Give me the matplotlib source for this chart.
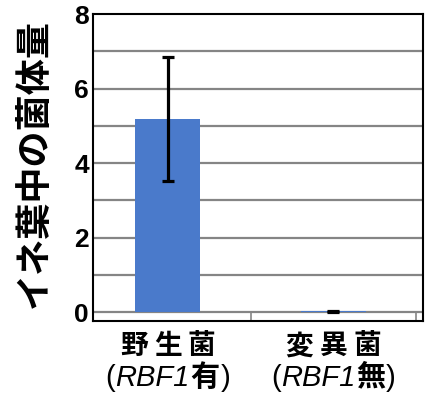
import matplotlib
matplotlib.use("Agg")
import matplotlib.pyplot as plt
from matplotlib.offsetbox import TextArea, HPacker, VPacker, AnnotationBbox

# 菌体量（平均値と標準偏差）
strains = ["野生菌", "変異菌"]
gene_state = ["有", "無"]
amount = [5.18, 0.02]
amount_err = [1.66, 0.02]
y_ticks = [0, 2, 4, 6, 8]
y_label = "イネ葉中の菌体量"

JP = "Noto Sans CJK JP"
LATIN = "Liberation Sans"

fig = plt.figure(figsize=(4.25, 4.0), dpi=100)
ax = fig.add_axes([0.219, 0.1975, 0.776, 0.7675])

x = list(range(len(strains)))
ax.bar(x, amount, width=0.39, color="#4a7acb", zorder=2)
ax.errorbar(x, amount, yerr=amount_err, fmt="none", ecolor="black",
            elinewidth=2.3, capsize=4.5, capthick=2.3, zorder=3)

ax.set_xlim(-0.45, 1.54)
ax.set_ylim(-0.24, 8)

# 横の目盛線（上端は枠線と重なる）
for v in range(0, 8):
    ax.axhline(v, color="#858585", linewidth=1.6, zorder=1)
ax.vlines([0.5, 1.5], -0.24, 0, color="#858585", linewidth=1.2, zorder=1)

for s in ax.spines.values():
    s.set_color("black")
    s.set_linewidth(1.5)

ax.set_yticks(y_ticks)
ax.set_yticklabels([str(t) for t in y_ticks], fontsize=19,
                   fontweight="bold", family=[LATIN, "DejaVu Sans"])
ax.tick_params(axis="y", length=0, pad=3)
ax.set_xticks([])

fig.text(0.08, 0.59, y_label, rotation=90, ha="center", va="center",
         fontsize=26, fontweight="bold", family=[JP, "DejaVu Sans"])

# 横軸ラベル：菌株名と (RBF1有/無)
jp_bold = dict(fontsize=20, fontweight="bold", family=[JP, LATIN])
jp_bold2 = dict(fontsize=21, fontweight="bold", family=[JP, LATIN])
latin = dict(fontsize=21, family=[LATIN])
latin_it = dict(fontsize=21, style="italic", family=[LATIN])
for xi, name, state in zip(x, strains, gene_state):
    top = HPacker(children=[TextArea(c, textprops=jp_bold) for c in name],
                  pad=0, sep=4.5, align="baseline")
    line2 = HPacker(children=[
        TextArea("(", textprops=latin),
        TextArea("RBF1", textprops=latin_it),
        TextArea(state, textprops=jp_bold2),
        TextArea(")", textprops=latin),
    ], pad=0, sep=0.5, align="baseline")
    box = VPacker(children=[top, line2], pad=0, sep=1, align="center")
    ab = AnnotationBbox(box, (xi, 0), xycoords=("data", "axes fraction"),
                        xybox=(0, -8), boxcoords="offset points",
                        box_alignment=(0.5, 1.0), frameon=False)
    ax.add_artist(ab)

fig.savefig("out.png", dpi=100)
